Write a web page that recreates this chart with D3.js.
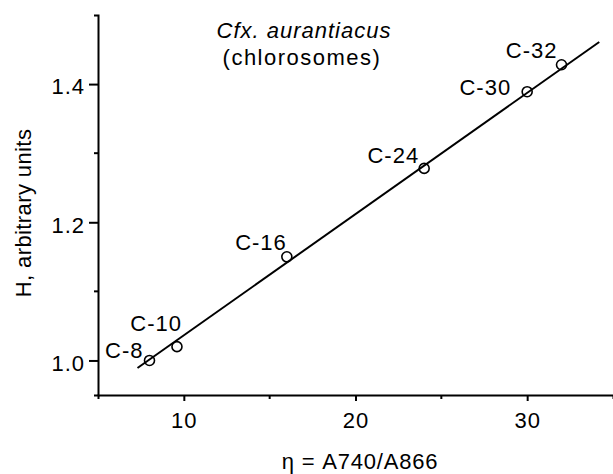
<!DOCTYPE html>
<html>
<head>
<meta charset="utf-8">
<script src="https://cdn.jsdelivr.net/npm/d3@7"></script>
<style>
  body { margin: 0; background: #fff; }
  svg text { font-family: "Liberation Sans", Arial, sans-serif; font-size: 22px; letter-spacing: 1px; fill: #000; }
  .axis path, .axis line { stroke: #000; }
  .axis path { stroke-width: 2; }
  .axis line { stroke-width: 2; }
</style>
</head>
<body>
<div id="graphic"></div>
<script>
// data
const labels = ["C-8", "C-10", "C-16", "C-24", "C-30", "C-32"];
const eta = [8, 9.6, 16, 24, 30, 32];
const hValues = [1.0, 1.02, 1.15, 1.278, 1.389, 1.428];
// fitted line end points
const fitEta = [7.3, 34.2];
const fitH = [0.989, 1.461];
// ticks
const xTicks = [10, 20, 30];
const xMinor = [15, 25];
const yTicks = [1.0, 1.2, 1.4];
const yMinor = [1.1, 1.3];

const width = 613, height = 474;
const margin = { top: 15, right: 0, bottom: 79, left: 98 };

const svg = d3.select("#graphic").append("svg")
  .attr("width", width)
  .attr("height", height);

const x = d3.scaleLinear()
  .domain([5, 35])
  .range([margin.left, width - margin.right]);

const y = d3.scaleLinear()
  .domain([0.95, 1.5])
  .range([height - margin.bottom, margin.top]);

// x axis
const gx = svg.append("g")
  .attr("class", "axis")
  .attr("transform", `translate(0,${y(0.95)})`)
  .call(d3.axisBottom(x).tickValues(xTicks).tickSize(6).tickSizeOuter(4).tickPadding(11));
gx.selectAll(".tick text").attr("dy", "0.71em");

gx.selectAll(".minor")
  .data(xMinor)
  .enter().append("line")
  .attr("x1", d => x(d)).attr("x2", d => x(d))
  .attr("y1", 0).attr("y2", 4);

// y axis
const gy = svg.append("g")
  .attr("class", "axis")
  .attr("transform", `translate(${x(5)},0)`)
  .call(d3.axisLeft(y).tickValues(yTicks).tickSize(9).tickSizeOuter(4).tickPadding(4)
    .tickFormat(d3.format(".1f")));
gy.selectAll(".tick text").attr("dy", "0.45em");

gy.selectAll(".minor")
  .data(yMinor)
  .enter().append("line")
  .attr("x1", -4).attr("x2", 0)
  .attr("y1", d => y(d)).attr("y2", d => y(d));

svg.selectAll(".domain").attr("fill", "none");

// fit line
const line = d3.line().x(d => x(d[0])).y(d => y(d[1]));
svg.append("path")
  .datum(fitEta.map((e, i) => [e, fitH[i]]))
  .attr("d", line)
  .attr("fill", "none")
  .attr("stroke", "#000")
  .attr("stroke-width", 2);

// points
svg.selectAll(".pt")
  .data(eta)
  .enter().append("circle")
  .attr("cx", d => x(d))
  .attr("cy", (d, i) => y(hValues[i]))
  .attr("r", 5)
  .attr("fill", "none")
  .attr("stroke", "#000")
  .attr("stroke-width", 1.6);

// point labels, nudged like the original
const nudge = {
  "C-8": [-6, -2], "C-10": [5, -16], "C-16": [0, -7],
  "C-24": [-5, -5], "C-30": [-16, 3], "C-32": [-4, -7]
};
svg.selectAll(".plabel")
  .data(labels)
  .enter().append("text")
  .attr("text-anchor", "end")
  .attr("x", (d, i) => x(eta[i]) + nudge[d][0])
  .attr("y", (d, i) => y(hValues[i]) + nudge[d][1])
  .text(d => d);

// title
svg.append("text")
  .attr("x", 304).attr("y", 38)
  .attr("text-anchor", "middle")
  .style("font-style", "italic")
  .text("Cfx. aurantiacus");
svg.append("text")
  .attr("x", 302).attr("y", 65)
  .attr("text-anchor", "middle")
  .style("letter-spacing", "1.5px")
  .text("(chlorosomes)");

// axis titles
svg.append("text")
  .attr("x", 360).attr("y", 469)
  .attr("text-anchor", "middle")
  .style("letter-spacing", "0.8px")
  .text("η = A740/A866");

svg.append("text")
  .attr("transform", `translate(31,213) rotate(-90)`)
  .attr("text-anchor", "middle")
  .style("letter-spacing", "0.4px")
  .text("H, arbitrary units");
</script>
</body>
</html>
